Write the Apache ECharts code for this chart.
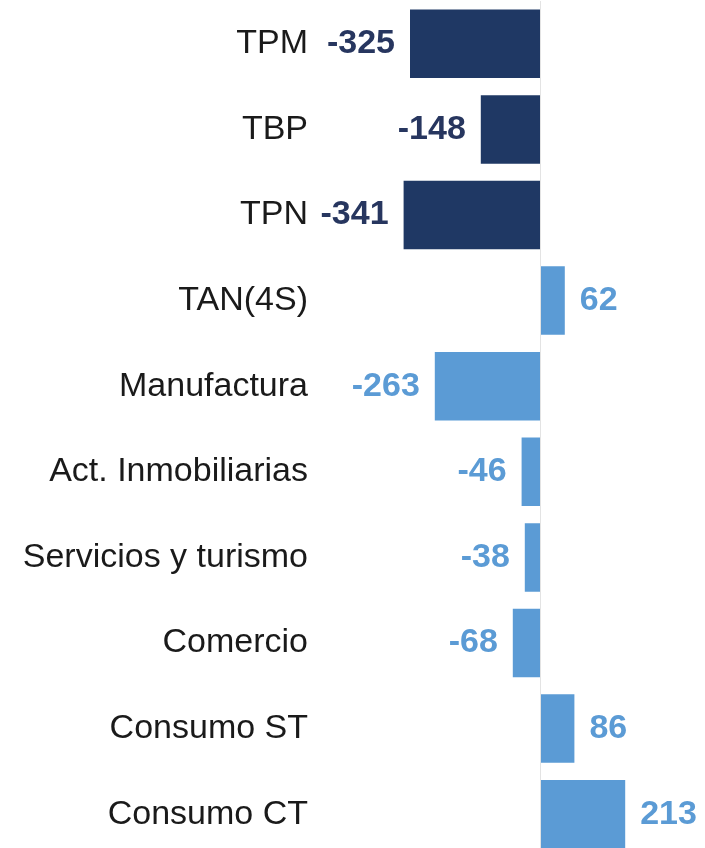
<!DOCTYPE html>
<html>
<head>
<meta charset="utf-8">
<script src="https://cdn.jsdelivr.net/npm/echarts@6/dist/echarts.min.js"></script>
<style>
  html, body { margin: 0; padding: 0; background: #ffffff; }
  #chart { width: 705px; height: 848px; }
</style>
</head>
<body>
<div id="chart"></div>
<script>
// Categories, top to bottom
const categories = [
  'TPM', 'TBP', 'TPN', 'TAN(4S)', 'Manufactura',
  'Act. Inmobiliarias', 'Servicios y turismo', 'Comercio',
  'Consumo ST', 'Consumo CT'
];
// Change per category
const values = [-325, -148, -341, 62, -263, -46, -38, -68, 86, 213];
// Group of each category: interest rates vs. credit segments
const groups = ['tasa', 'tasa', 'tasa', 'segmento', 'segmento',
  'segmento', 'segmento', 'segmento', 'segmento', 'segmento'];

const barColor = { tasa: '#1f3864', segmento: '#5b9bd5' };
const labelColor = { tasa: '#27365f', segmento: '#5b9bd5' };
const FONT = '"Liberation Sans", Arial, sans-serif';

const seriesData = values.map((v, i) => ({
  value: v,
  itemStyle: { color: barColor[groups[i]] },
  label: {
    position: v < 0 ? 'left' : 'right',
    color: labelColor[groups[i]]
  }
}));

const chart = echarts.init(document.getElementById('chart'));
chart.setOption({
  animation: false,
  backgroundColor: '#ffffff',
  grid: { left: 380, width: 320, top: 1, height: 856, outerBoundsMode: 'none', containLabel: false },
  xAxis: {
    type: 'value',
    min: -400,
    max: 400,
    show: false
  },
  yAxis: {
    type: 'category',
    data: categories,
    inverse: true,
    axisLine: { show: false },
    axisTick: { show: false },
    axisLabel: {
      margin: 72,
      fontFamily: FONT,
      fontSize: 34,
      color: '#1a1a1a'
    }
  },
  series: [{
    type: 'bar',
    data: seriesData,
    barCategoryGap: '20%',
    label: {
      show: true,
      distance: 15,
      fontFamily: FONT,
      fontSize: 34,
      fontWeight: 'bold'
    },
    markLine: {
      silent: true,
      symbol: 'none',
      label: { show: false },
      lineStyle: { color: '#e3e3e3', type: 'solid', width: 1 },
      data: [{ xAxis: 0 }]
    }
  }]
});
</script>
</body>
</html>
